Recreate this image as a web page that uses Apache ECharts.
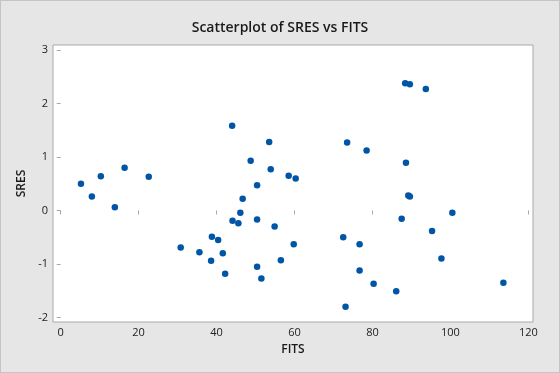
<!DOCTYPE html>
<html>
<head>
<meta charset="utf-8">
<script src="https://cdn.jsdelivr.net/npm/echarts@6/dist/echarts.min.js"></script>
<style>
html,body{margin:0;padding:0;background:#e6e6e6;}
#c{width:560px;height:373px;box-sizing:border-box;border:1px solid #c4c4c4;}
</style>
</head>
<body>
<div id="c"></div>
<script>
const fits = [5.2, 8.0, 10.3, 13.9, 16.4, 22.6, 30.8, 35.6, 38.6, 38.8, 40.4, 41.6, 42.2, 44.0, 44.1, 45.6, 46.1, 46.7, 48.75, 50.4, 50.4, 50.4, 51.5, 53.5, 53.9, 54.9, 56.5, 58.5, 59.8, 60.3, 72.5, 73.1, 73.5, 76.7, 76.7, 78.5, 80.3, 86.1, 87.5, 88.4, 88.6, 89.2, 89.6, 89.6, 93.7, 95.3, 97.7, 100.5, 113.6];
const sres = [0.50, 0.26, 0.64, 0.06, 0.80, 0.63, -0.69, -0.78, -0.94, -0.49, -0.55, -0.80, -1.18, 1.585, -0.19, -0.24, -0.04, 0.22, 0.93, 0.47, -0.17, -1.05, -1.27, 1.28, 0.77, -0.30, -0.93, 0.65, -0.63, 0.60, -0.50, -1.80, 1.27, -0.63, -1.12, 1.12, -1.37, -1.51, -0.155, 2.38, 0.89, 0.28, 2.36, 0.26, 2.27, -0.385, -0.895, -0.04, -1.35];
const xTicks = [0, 20, 40, 60, 80, 100, 120];
const yTicks = [-2, -1, 0, 1, 2, 3];

const chart = echarts.init(document.getElementById('c'), null, {renderer: 'canvas'});
const font = '"Open Sans", "Noto Sans", sans-serif';
const points = fits.map((x, i) => [x, sres[i]]);
chart.setOption({
  backgroundColor: '#e6e6e6',
  animation: false,
  title: {
    text: 'Scatterplot of SRES vs FITS',
    left: 'center',
    top: 15,
    textStyle: {fontFamily: font, fontSize: 14, fontWeight: 600, color: '#1a1a1a'}
  },
  grid: {
    left: 52, right: 26, top: 44, bottom: 50,
    show: true, backgroundColor: '#ffffff', borderColor: '#a8a8a8', borderWidth: 1
  },
  xAxis: {
    type: 'value', min: -1.97, max: 121.2,
    name: 'FITS', nameLocation: 'middle', nameGap: 22,
    nameTextStyle: {fontFamily: font, fontSize: 12, fontWeight: 600, color: '#1a1a1a'},
    splitLine: {show: false},
    axisLine: {show: false},
    axisTick: {show: true, length: 4, lineStyle: {color: '#a8a8a8'}, customValues: xTicks},
    axisLabel: {fontFamily: font, fontSize: 11, color: '#222', margin: 5, customValues: xTicks}
  },
  yAxis: {
    type: 'value', min: -2.084, max: 3.093,
    name: 'SRES', nameLocation: 'middle', nameGap: 24, nameRotate: 90,
    nameTextStyle: {fontFamily: font, fontSize: 12, fontWeight: 600, color: '#1a1a1a'},
    splitLine: {show: false},
    axisLine: {show: false},
    axisTick: {show: true, length: 4, lineStyle: {color: '#a8a8a8'}, customValues: yTicks},
    axisLabel: {fontFamily: font, fontSize: 11, color: '#222', margin: 5, customValues: yTicks}
  },
  series: [{
    type: 'scatter',
    data: points,
    symbol: 'circle',
    symbolSize: 6.5,
    itemStyle: {color: '#0055a6', opacity: 1}
  }]
});
</script>
</body>
</html>
